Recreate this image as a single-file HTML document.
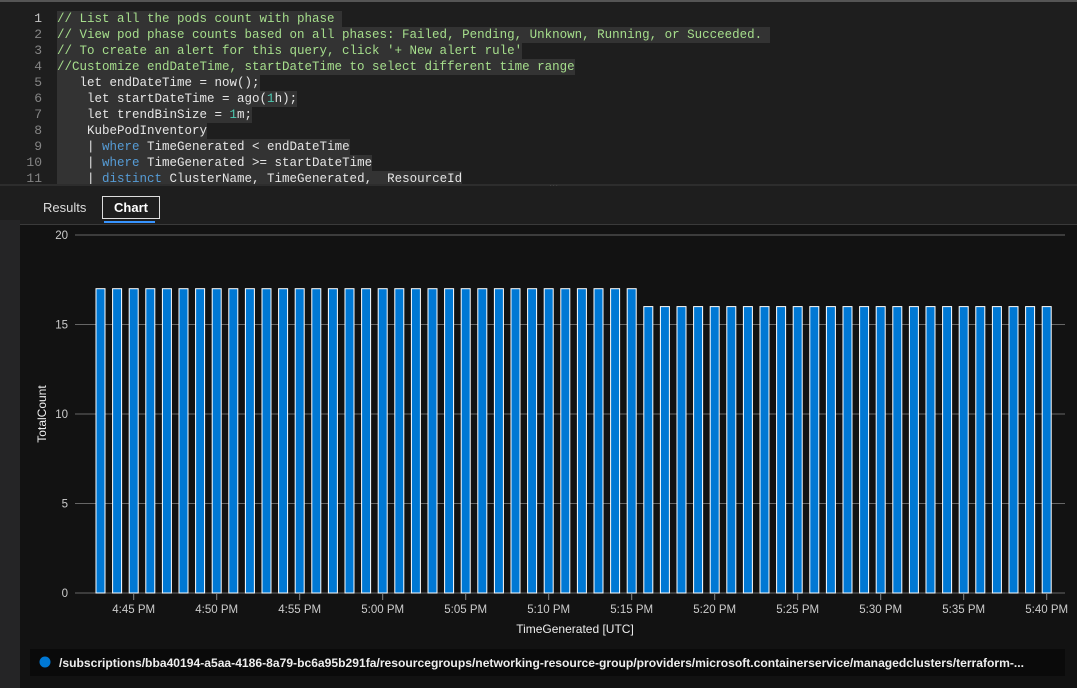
<!DOCTYPE html>
<html><head><meta charset="utf-8"><style>
body{margin:0;width:1077px;height:688px;background:#1e1e1e;overflow:hidden;font-family:"Liberation Sans",sans-serif;position:relative}
#editor{position:absolute;left:0;top:0;width:1077px;height:185px;background:#1e1e1e;border-top:2px solid #555;box-sizing:border-box}
.ln{position:absolute;left:0;width:42px;text-align:right;color:#858585;font:13px "Liberation Mono",monospace}
.code{position:absolute;left:57px;font:12.5px "Liberation Mono",monospace;color:#e6e6e6;white-space:pre;background:#333;line-height:16px}
.c{color:#a6de8c}.k{color:#569cd6}.n{color:#4ec9b0}
#left{position:absolute;left:0;top:220px;width:20px;height:468px;background:#252526}
</style></head><body>
<div id="editor">
<div class="ln" style="top:9px;color:#c6c6c6">1</div><div class="code" style="top:9px"><span class="c">// List all the pods count with phase </span></div>
<div class="ln" style="top:25px">2</div><div class="code" style="top:25px"><span class="c">// View pod phase counts based on all phases: Failed, Pending, Unknown, Running, or Succeeded. </span></div>
<div class="ln" style="top:41px">3</div><div class="code" style="top:41px"><span class="c">// To create an alert for this query, click '+ New alert rule'</span></div>
<div class="ln" style="top:57px">4</div><div class="code" style="top:57px"><span class="c">//Customize endDateTime, startDateTime to select different time range</span></div>
<div class="ln" style="top:73px">5</div><div class="code" style="top:73px">   let endDateTime = now();</div>
<div class="ln" style="top:89px">6</div><div class="code" style="top:89px">    let startDateTime = ago(<span class="n">1</span>h);</div>
<div class="ln" style="top:105px">7</div><div class="code" style="top:105px">    let trendBinSize = <span class="n">1</span>m;</div>
<div class="ln" style="top:121px">8</div><div class="code" style="top:121px">    KubePodInventory</div>
<div class="ln" style="top:137px">9</div><div class="code" style="top:137px">    | <span class="k">where</span> TimeGenerated &lt; endDateTime</div>
<div class="ln" style="top:153px">10</div><div class="code" style="top:153px">    | <span class="k">where</span> TimeGenerated &gt;= startDateTime</div>
<div class="ln" style="top:169px">11</div><div class="code" style="top:169px;height:14px;overflow:hidden">    | <span class="k">distinct</span> ClusterName, TimeGenerated,  ResourceId</div>
</div>
<div style="position:absolute;left:0;top:184px;width:1077px;height:2px;background:#2d2d2d"></div>
<div style="position:absolute;left:549px;top:178px;color:#888;font-size:11px">...</div>
<div style="position:absolute;left:0;top:186px;width:1077px;height:38px;background:#1e1e1e"></div>
<div style="position:absolute;left:43px;top:200px;color:#ddd;font-size:13px">Results</div>
<div style="position:absolute;left:102px;top:196px;width:56px;height:21px;border:1px solid #ddd;color:#fff;font-size:13px;font-weight:bold;text-align:center;line-height:21px">Chart</div>
<div style="position:absolute;left:104px;top:221px;width:51px;height:2px;background:#3794ff"></div>
<div style="position:absolute;left:20px;top:224px;width:1057px;height:1px;background:#3a3a3a"></div>
<div id="left"></div>
<svg id="chart" style="position:absolute;left:0;top:0" width="1077" height="688">
<rect x="20" y="225" width="1057" height="463" fill="#121212"/>
<rect x="0" y="224" width="20" height="464" fill="#252526"/>
<g id="grid"></g><g id="bars"></g><g id="xt"></g>
<text transform="translate(46,414) rotate(-90)" text-anchor="middle" fill="#eee" font-size="12">TotalCount</text>
<text x="575" y="633" text-anchor="middle" fill="#eee" font-size="12">TimeGenerated [UTC]</text>
<rect x="30" y="649" width="1035" height="27" fill="#0a0a0a"/>
<circle cx="45" cy="662" r="5.5" fill="#0078d4"/>
<text x="59" y="667" fill="#eee" font-size="12" font-weight="bold" textLength="965" lengthAdjust="spacingAndGlyphs">/subscriptions/bba40194-a5aa-4186-8a79-bc6a95b291fa/resourcegroups/networking-resource-group/providers/microsoft.containerservice/managedclusters/terraform-...</text>
</svg>
<script>
const values=[17,17,17,17,17,17,17,17,17,17,17,17,17,17,17,17,17,17,17,17,17,17,17,17,17,17,17,17,17,17,17,17,17,16,16,16,16,16,16,16,16,16,16,16,16,16,16,16,16,16,16,16,16,16,16,16,16,16];
const yTicks=[0,5,10,15,20];
const xTickLabels=["4:45 PM","4:50 PM","4:55 PM","5:00 PM","5:05 PM","5:10 PM","5:15 PM","5:20 PM","5:25 PM","5:30 PM","5:35 PM","5:40 PM"];
const xTickMinutes=[2,7,12,17,22,27,32,37,42,47,52,57];
const NS="http://www.w3.org/2000/svg";
const y=v=>593-v*(358/20);
const x=m=>100.5+m*16.6;
function mk(t,a,p){const e=document.createElementNS(NS,t);for(const k in a)e.setAttribute(k,a[k]);p.appendChild(e);return e;}
const g=document.getElementById('grid');
yTicks.forEach(v=>{
 const l=mk('line',{x1:75,x2:1065,y1:y(v),y2:y(v),stroke:'#666','stroke-width':1},g);
 
 
 const t=mk('text',{x:68,y:y(v)+4,'text-anchor':'end',fill:'#ccc','font-size':11.5},g);
 
 
 t.textContent=v;
});
const b=document.getElementById('bars');
values.forEach((v,i)=>{
 const r=mk('rect',{x:x(i)-4.5,y:y(v),width:9,height:593-y(v),fill:'#0078d4',stroke:'#fff','stroke-width':1},b);
 
 
});
const xt=document.getElementById('xt');
xTickLabels.forEach((s,i)=>{
 const cx=x(xTickMinutes[i]);
 mk('line',{x1:cx,x2:cx,y1:593,y2:600,stroke:'#888'},xt);
 const t=mk('text',{x:cx,y:613,'text-anchor':'middle',fill:'#ccc','font-size':11.5},xt);
 
 
 t.textContent=s;
});
</script>
</body></html>
